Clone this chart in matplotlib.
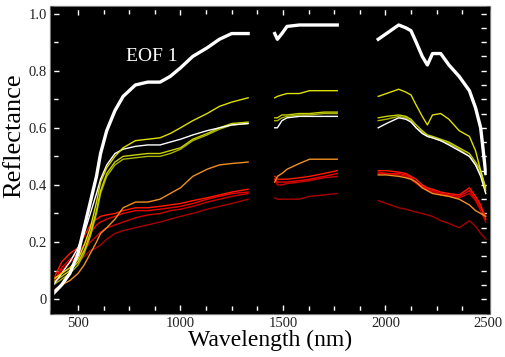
import numpy as np
import matplotlib
matplotlib.use("Agg")
import matplotlib.pyplot as plt
from matplotlib.patches import Rectangle

# spectra, 3 segments each (water absorption bands left out)
wl1 = [380, 420, 460, 500, 530, 560, 590, 610, 640, 680, 720, 780, 840, 900, 950, 1000, 1060, 1130, 1190, 1250, 1330]
wl2 = [1460, 1473, 1495, 1520, 1580, 1630, 1700, 1765]
wl3 = [1965, 2005, 2065, 2100, 2125, 2150, 2180, 2205, 2230, 2270, 2310, 2360, 2410, 2440, 2465, 2490]

eof1 = [[0.02, 0.05, 0.09, 0.16, 0.25, 0.34, 0.43, 0.51, 0.59, 0.66, 0.71, 0.75, 0.76, 0.76, 0.78, 0.81, 0.85, 0.88, 0.91, 0.93, 0.93],
        [0.93, 0.91, 0.93, 0.955, 0.96, 0.96, 0.96, 0.96],
        [0.91, 0.93, 0.96, 0.95, 0.94, 0.90, 0.85, 0.82, 0.86, 0.86, 0.82, 0.78, 0.73, 0.67, 0.60, 0.44]]
yellow_top = [[0.07, 0.09, 0.11, 0.14, 0.19, 0.25, 0.34, 0.41, 0.46, 0.50, 0.53, 0.555, 0.56, 0.565, 0.58, 0.60, 0.625, 0.65, 0.675, 0.69, 0.705],
              [0.705, 0.71, 0.715, 0.72, 0.72, 0.73, 0.73, 0.73],
              [0.71, 0.72, 0.735, 0.725, 0.715, 0.68, 0.64, 0.61, 0.645, 0.65, 0.63, 0.59, 0.57, 0.52, 0.45, 0.38]]
olive1 = [[0.06, 0.08, 0.10, 0.13, 0.17, 0.23, 0.31, 0.38, 0.44, 0.48, 0.50, 0.505, 0.51, 0.51, 0.52, 0.53, 0.56, 0.58, 0.60, 0.615, 0.62],
          [0.635, 0.635, 0.645, 0.645, 0.65, 0.65, 0.655, 0.655],
          [0.635, 0.64, 0.645, 0.64, 0.63, 0.61, 0.59, 0.575, 0.57, 0.56, 0.55, 0.53, 0.51, 0.48, 0.45, 0.39]]
olive2 = [[0.05, 0.07, 0.09, 0.12, 0.16, 0.22, 0.30, 0.37, 0.43, 0.47, 0.49, 0.495, 0.50, 0.50, 0.51, 0.525, 0.555, 0.575, 0.595, 0.61, 0.615],
          [0.625, 0.625, 0.635, 0.64, 0.645, 0.645, 0.65, 0.65],
          [0.625, 0.63, 0.64, 0.635, 0.625, 0.60, 0.585, 0.57, 0.565, 0.555, 0.545, 0.525, 0.50, 0.47, 0.44, 0.37]]
white_thin = [[0.05, 0.09, 0.13, 0.18, 0.23, 0.30, 0.37, 0.42, 0.47, 0.51, 0.525, 0.535, 0.54, 0.54, 0.55, 0.56, 0.575, 0.59, 0.60, 0.61, 0.615],
              [0.60, 0.60, 0.625, 0.635, 0.64, 0.64, 0.64, 0.64],
              [0.60, 0.615, 0.635, 0.63, 0.62, 0.60, 0.58, 0.57, 0.565, 0.555, 0.54, 0.52, 0.50, 0.47, 0.43, 0.37]]
orange = [[0.03, 0.05, 0.065, 0.09, 0.12, 0.16, 0.20, 0.23, 0.25, 0.28, 0.32, 0.34, 0.34, 0.35, 0.37, 0.39, 0.43, 0.455, 0.47, 0.475, 0.48],
          [0.41, 0.43, 0.44, 0.455, 0.475, 0.49, 0.49, 0.49],
          [0.435, 0.435, 0.43, 0.425, 0.42, 0.41, 0.39, 0.38, 0.37, 0.365, 0.36, 0.35, 0.33, 0.31, 0.30, 0.29]]
red_a = [[0.07, 0.13, 0.16, 0.18, 0.22, 0.26, 0.28, 0.29, 0.295, 0.30, 0.31, 0.32, 0.32, 0.325, 0.33, 0.335, 0.345, 0.355, 0.365, 0.375, 0.385],
         [0.43, 0.42, 0.42, 0.42, 0.425, 0.43, 0.44, 0.45],
         [0.45, 0.45, 0.445, 0.44, 0.43, 0.42, 0.40, 0.39, 0.385, 0.375, 0.37, 0.365, 0.39, 0.36, 0.33, 0.28]]
red_b = [[0.06, 0.11, 0.14, 0.16, 0.19, 0.23, 0.26, 0.27, 0.28, 0.29, 0.30, 0.31, 0.31, 0.315, 0.32, 0.325, 0.335, 0.35, 0.36, 0.37, 0.375],
         [0.42, 0.41, 0.41, 0.41, 0.415, 0.42, 0.43, 0.44],
         [0.44, 0.44, 0.44, 0.435, 0.425, 0.41, 0.395, 0.385, 0.38, 0.37, 0.365, 0.36, 0.38, 0.35, 0.32, 0.29]]
red_c = [[0.05, 0.10, 0.13, 0.15, 0.17, 0.20, 0.22, 0.235, 0.25, 0.26, 0.27, 0.285, 0.295, 0.30, 0.31, 0.315, 0.325, 0.34, 0.35, 0.36, 0.37],
         [0.42, 0.40, 0.40, 0.405, 0.41, 0.415, 0.425, 0.43],
         [0.445, 0.44, 0.435, 0.43, 0.42, 0.405, 0.39, 0.38, 0.375, 0.365, 0.36, 0.355, 0.37, 0.345, 0.31, 0.27]]
dark_red = [[0.05, 0.09, 0.11, 0.13, 0.15, 0.17, 0.18, 0.19, 0.21, 0.23, 0.24, 0.25, 0.26, 0.27, 0.28, 0.29, 0.30, 0.315, 0.325, 0.335, 0.35],
            [0.355, 0.35, 0.35, 0.35, 0.35, 0.36, 0.365, 0.37],
            [0.345, 0.335, 0.32, 0.315, 0.31, 0.305, 0.30, 0.295, 0.29, 0.275, 0.265, 0.25, 0.275, 0.255, 0.23, 0.21]]

spectra = [dark_red, red_c, red_b, red_a, orange, olive2, olive1, white_thin, yellow_top]
colors = ['#a80000', '#d00000', '#ee0000', '#ff1a00', '#f09020', '#a8b400', '#c8d000', '#ffffff', '#e0e000']

fig = plt.figure(figsize=(5.05, 3.57), dpi=100)
ax = fig.add_axes([0.103, 0.126, 0.863, 0.852])
ax.set_facecolor('black')

for spec, c in zip(spectra, colors):
    for wl, r in zip([wl1, wl2, wl3], spec):
        ax.plot(wl, r, color=c, lw=1.0)
for wl, r in zip([wl1, wl2, wl3], eof1):
    ax.plot(wl, r, color='white', lw=2.4)

ax.text(860, 0.85, "EOF 1", color='white', fontsize=14, family='Liberation Serif',
        ha='center', va='center')

ax.set_xlim(373, 2500)
ax.set_ylim(-0.045, 1.02)
ax.set_xticks([500, 1000, 1500, 2000, 2500])
ax.set_xticks(np.arange(500, 2500, 125), minor=True)
ax.set_yticks([0, 0.2, 0.4, 0.6, 0.8, 1.0], labels=['0', '0.2', '0.4', '0.6', '0.8', '1.0'])
ax.set_yticks(np.arange(0.1, 1.0, 0.2), minor=True)
ax.tick_params(which='both', direction='in', color='white', labelcolor='#222222',
               top=True, right=False, labelsize=10.5, length=5, width=1)
ax.tick_params(which='minor', length=4)
for lab in ax.get_xticklabels() + ax.get_yticklabels():
    lab.set_family('Liberation Serif')

sec = ax.secondary_yaxis('right')
sec.set_yticks(np.arange(0, 1.01, 0.05), labels=[])
sec.tick_params(direction='in', color='white', length=5, width=1)
sec.spines['right'].set_visible(False)

for sp in ax.spines.values():
    sp.set_color('black')
    sp.set_linewidth(2.5)
# thin grey outline around the frame
ax.add_patch(Rectangle((-0.005, -0.007), 1.01, 1.014, transform=ax.transAxes,
                       fill=False, edgecolor='#a0a0a0', lw=1, clip_on=False))

ax.set_xlabel("Wavelength (nm)", fontsize=17, family='Liberation Serif', labelpad=0)
ax.set_ylabel("Reflectance", fontsize=19, family='Liberation Serif')
ax.yaxis.set_label_coords(-0.062, 0.58)

plt.savefig('out.png', dpi=100)
